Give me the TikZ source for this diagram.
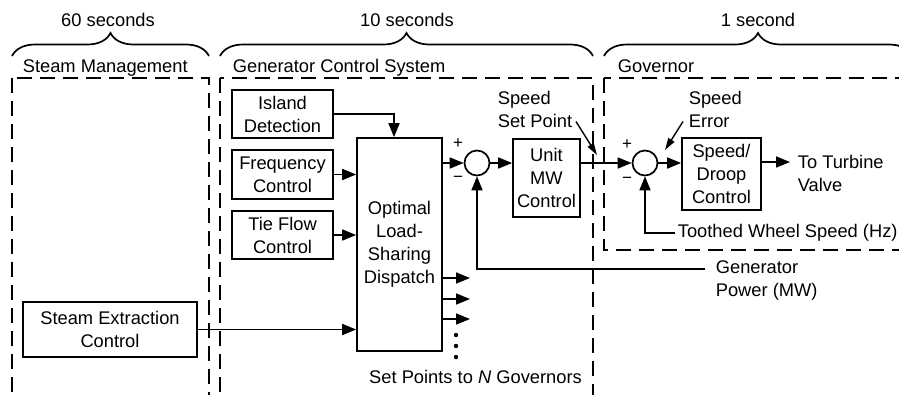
\documentclass[tikz,border=0pt]{standalone}
\usepackage{fontspec}
\setmainfont{Liberation Sans}
\usetikzlibrary{arrows.meta,decorations.pathreplacing}

\begin{document}
\begin{tikzpicture}[x=1pt,y=-1pt,
    font=\fontsize{18.3}{23}\selectfont,
    line width=1.7pt,
    block/.style={rectangle, draw, inner sep=0pt, align=center},
    sum/.style={circle, draw, minimum size=25pt, inner sep=0pt},
    zone/.style={draw, dash pattern=on 15pt off 8pt},
    arr/.style={-{Triangle[length=14pt,width=11pt]}},
    note/.style={-{Triangle[length=12pt,width=7pt]}, line width=1.4pt},
    timing/.style={decorate, decoration={brace, amplitude=23pt}},
    sign/.style={inner sep=0pt, font=\fontsize{17}{17}\selectfont},
    lbl/.style={inner sep=0pt, align=left}
    ]
    \useasboundingbox (0,0) rectangle (899,394);
    \clip (0,0) rectangle (899,394);

    \draw[zone] (12,78) rectangle (209,420);
    \draw[zone] (220,78) rectangle (593,420);
    \draw[zone] (604,78) rectangle (930,250);

    \draw[timing] (12,56) -- (209,56);
    \draw[timing] (220,56) -- (593,56);
    \draw[timing] (604,56) -- (912,56);
    \node[anchor=base] (t60) at (108,26) {60 seconds};
    \node[anchor=base] (t10) at (407,26) {10 seconds};
    \node[anchor=base] (t1) at (758,26) {1 second};

    \node[lbl, anchor=base west] (smt) at (22,72) {Steam Management};
    \node[lbl, anchor=base west] (gcs) at (232,72) {Generator Control System};
    \node[lbl, anchor=base west] (gov) at (617,72) {Governor};

    \node[block, minimum width=101pt, minimum height=48pt] (isl) at (282.5,114) {Island\\Detection};
    \node[block, minimum width=101pt, minimum height=49pt] (freq) at (282.5,174.5) {Frequency\\Control};
    \node[block, minimum width=101pt, minimum height=48pt] (tie) at (282.5,235) {Tie Flow\\Control};
    \node[block, minimum width=85pt, minimum height=213pt] (opt) at (399.5,244.5) {Optimal\\Load-\\Sharing\\Dispatch};
    \node[block, minimum width=174pt, minimum height=55pt] (sec) at (110,329.5) {Steam Extraction\\Control};
    \node[sum] (s1) at (477,163) {};
    \node[block, minimum width=67pt, minimum height=78pt] (umw) at (546.5,178) {Unit\\MW\\Control};
    \node[sum] (s2) at (645,163) {};
    \node[block, minimum width=79pt, minimum height=72pt] (sdc) at (721.5,174) {Speed/\\Droop\\Control};

    \node[sign] (p1) at (458,144) {+};
    \node[sign] (m1) at (458,179) {−};
    \node[sign] (p2) at (627,145) {+};
    \node[sign] (m2) at (627,180) {−};

    \draw[arr] (isl.east) -| ([xshift=-5.5pt]opt.north);
    \draw[arr] (freq.east) -- (freq.east -| opt.west);
    \draw[arr] (tie.east) -- (tie.east -| opt.west);
    \draw[arr] (sec.east) -- (sec.east -| opt.west);
    \draw[arr] (s1.west -| opt.east) -- (s1.west);
    \draw[arr] (s1.east) -- (s1.east -| umw.west);
    \draw[arr] (s2.west -| umw.east) -- (s2.west);
    \draw[arr] (s2.east) -- (s2.east -| sdc.west);

    \coordinate (tv) at (790,162);
    \draw[arr] (sdc.east |- tv) -- (tv);
    \node[lbl, anchor=west] (tvl) at (797,173.5) {To Turbine\\Valve};

    \foreach \y [count=\i] in {278,299,319} {
      \coordinate (o\i) at (470,\y);
      \draw[arr] (opt.east |- o\i) -- (o\i);
    }
    \foreach \y in {335,346,357}
      \fill (456,\y) circle (2.2pt);
    \node[anchor=base, inner sep=0pt] (spn) at (475.5,383) {Set Points to \textit{N} Governors};

    \coordinate (tw) at (675,233);
    \draw[arr] (tw) -| (s2.south);
    \node[lbl, anchor=west, inner sep=2pt] (twl) at (tw) {Toothed Wheel Speed (Hz)};

    \coordinate (gp) at (705,269);
    \draw[arr] (gp) -| (s1.south);
    \node[lbl, anchor=west] (gpl) at (715,280.5) {Generator\\Power (MW)};

    \node[lbl, anchor=west] (ssp) at (497,109.5) {Speed\\Set Point};
    \coordinate (sspt) at (597,155);
    \draw[note] ([xshift=3pt,yshift=-12pt]ssp.east) -- (sspt);

    \node[lbl, anchor=west] (ser) at (688,109.5) {Speed\\Error};
    \coordinate (sert) at (665,150);
    \draw[note] ([xshift=-5pt,yshift=-12pt]ser.west) -- (sert);
\end{tikzpicture}
\end{document}
